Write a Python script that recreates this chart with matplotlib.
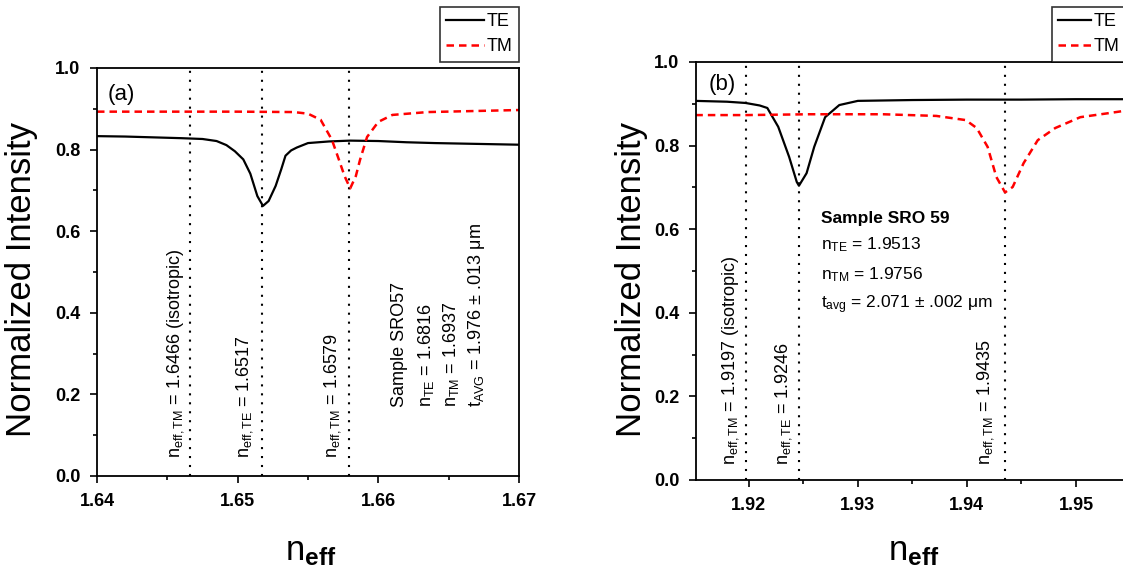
import numpy as np
import matplotlib
matplotlib.use("Agg")
import matplotlib.pyplot as plt
from matplotlib.ticker import MultipleLocator

plt.rcParams['font.family'] = ['Liberation Sans', 'DejaVu Sans']
plt.rcParams['mathtext.fontset'] = 'custom'
plt.rcParams['mathtext.rm'] = 'Liberation Sans'
plt.rcParams['mathtext.it'] = 'Liberation Sans'
plt.rcParams['mathtext.bf'] = 'Liberation Sans:bold'

# ---- panel (a) data ----
a_te_x = [1.6400, 1.6420, 1.6440, 1.6460, 1.6475, 1.6485, 1.6492, 1.6498, 1.6504,
          1.6509, 1.6514, 1.6518, 1.6522, 1.6527, 1.6531, 1.6534, 1.6538, 1.6542,
          1.6550, 1.6565, 1.6580, 1.6600, 1.6620, 1.6640, 1.6700]
a_te_y = [0.833, 0.832, 0.830, 0.828, 0.826, 0.821, 0.811, 0.796, 0.776,
          0.741, 0.686, 0.662, 0.674, 0.711, 0.752, 0.785, 0.798, 0.805,
          0.816, 0.820, 0.822, 0.821, 0.818, 0.816, 0.812]
a_tm_x = [1.6400, 1.6450, 1.6500, 1.6540, 1.6550, 1.6559, 1.6567, 1.6572, 1.6576,
          1.6580, 1.6584, 1.6587, 1.6592, 1.6600, 1.6610, 1.6635, 1.6700]
a_tm_y = [0.893, 0.893, 0.893, 0.892, 0.888, 0.873, 0.824, 0.775, 0.735,
          0.705, 0.735, 0.775, 0.831, 0.868, 0.885, 0.892, 0.897]
a_lines = [1.6466, 1.6517, 1.6579]

# ---- panel (b) data ----
b_te_x = [1.9151, 1.9180, 1.9197, 1.9210, 1.9217, 1.9227, 1.9237, 1.9244, 1.9246,
          1.9253, 1.9260, 1.9270, 1.9283, 1.9300, 1.9350, 1.9400, 1.9450, 1.9500,
          1.9550, 1.9600]
b_te_y = [0.907, 0.905, 0.902, 0.896, 0.890, 0.845, 0.773, 0.713, 0.704,
          0.734, 0.797, 0.868, 0.897, 0.907, 0.909, 0.910, 0.910, 0.911,
          0.911, 0.912]
b_tm_x = [1.9151, 1.9197, 1.9256, 1.9323, 1.9372, 1.9399, 1.9409, 1.9419, 1.9427,
          1.9435, 1.9442, 1.9452, 1.9465, 1.9481, 1.9504, 1.9531, 1.9544, 1.9600]
b_tm_y = [0.873, 0.873, 0.875, 0.875, 0.871, 0.861, 0.842, 0.797, 0.725,
          0.688, 0.701, 0.758, 0.813, 0.842, 0.868, 0.878, 0.883, 0.890]
b_lines = [1.9197, 1.9246, 1.9435]

a_ticks = [1.64, 1.65, 1.66, 1.67]
b_ticks = [1.92, 1.93, 1.94, 1.95]

W, H = 1123, 571
fig = plt.figure(figsize=(W / 100, H / 100), dpi=100)
ax_a = fig.add_axes([97 / W, 1 - 476 / H, 422 / W, 408 / H])
ax_b = fig.add_axes([696 / W, 1 - 480 / H, 489 / W, 418 / H])


def style(ax, xlim, ticks):
    ax.set_ylim(0, 1.0)
    ax.set_xlim(*xlim)
    ax.set_xticks(ticks)
    ax.xaxis.set_minor_locator(MultipleLocator(0.005))
    ax.yaxis.set_major_locator(MultipleLocator(0.2))
    ax.yaxis.set_minor_locator(MultipleLocator(0.1))
    ax.tick_params(which='both', direction='out', top=False, right=False, width=1.2)
    ax.tick_params(which='major', length=5, labelsize=13, pad=7)
    ax.tick_params(which='minor', length=3)
    for lab in ax.get_xticklabels() + ax.get_yticklabels():
        lab.set_fontweight('bold')
    for s in ax.spines.values():
        s.set_linewidth(1.3)


for ax, te_x, te_y, tm_x, tm_y, vl in [
        (ax_a, a_te_x, a_te_y, a_tm_x, a_tm_y, a_lines),
        (ax_b, b_te_x, b_te_y, b_tm_x, b_tm_y, b_lines)]:
    for v in vl:
        ax.axvline(v, color='black', linestyle=(0, (1, 3.3)), linewidth=1.5)
    ax.plot(te_x, te_y, color='black', linewidth=1.6, label='TE')
    ax.plot(tm_x, tm_y, color='red', linewidth=1.8, linestyle=(0, (3, 2)), label='TM')

style(ax_a, (1.64, 1.67), a_ticks)
style(ax_b, (1.91516, 1.96), b_ticks)

# axis labels
for xc in (22, 631):
    fig.text(xc / W, 1 - 279 / H, 'Normalized Intensity', rotation=90, fontsize=25,
             ha='center', va='center')
for xc in (311, 914):
    fig.text(xc / W, 1 - 552 / H, r'n$_{\mathbf{eff}}$', fontsize=25,
             ha='center', va='center')

# panel tags
ax_a.text(1.64076, 0.934, '(a)', fontsize=16, va='center')
ax_b.text(1.91636, 0.946, '(b)', fontsize=16, va='center')

# rotated annotations, panel (a)
rot_kw = dict(rotation=90, fontsize=13, ha='center', va='bottom')
ax_a.text(1.64557, 0.043, r'n$_{\mathrm{eff,TM}}$ = 1.6466 (isotropic)', **rot_kw)
ax_a.text(1.65051, 0.043, r'n$_{\mathrm{eff,TE}}$ = 1.6517', **rot_kw)
ax_a.text(1.65671, 0.043, r'n$_{\mathrm{eff,TM}}$ = 1.6579', **rot_kw)
ax_a.text(1.66152, 0.170, 'Sample SRO57', **rot_kw)
ax_a.text(1.66342, 0.170, r'n$_{\mathrm{TE}}$ = 1.6816', **rot_kw)
ax_a.text(1.66519, 0.170, r'n$_{\mathrm{TM}}$ = 1.6937', **rot_kw)
ax_a.text(1.66696, 0.170, r't$_{\mathrm{AVG}}$ = 1.976 $\pm$ .013 $\mu$m', **rot_kw)

# rotated annotations, panel (b)
ax_b.text(1.91831, 0.036, r'n$_{\mathrm{eff,TM}}$ = 1.9197 (isotropic)', **rot_kw)
ax_b.text(1.92318, 0.036, r'n$_{\mathrm{eff,TE}}$ = 1.9246', **rot_kw)
ax_b.text(1.94169, 0.036, r'n$_{\mathrm{eff,TM}}$ = 1.9435', **rot_kw)

blk = dict(fontsize=12.5, ha='left', va='center')
ax_b.text(1.92659, 0.626, 'Sample SRO 59', fontweight='bold', **blk)
ax_b.text(1.92659, 0.563, r'n$_{\mathrm{TE}}$ = 1.9513', **blk)
ax_b.text(1.92659, 0.491, r'n$_{\mathrm{TM}}$ = 1.9756', **blk)
ax_b.text(1.92659, 0.419, r't$_{\mathrm{avg}}$ = 2.071 $\pm$ .002 $\mu$m', **blk)

# legends
for ax, (lx, ly), hl in [(ax_a, (440, 7), 2.1), (ax_b, (1052, 7), 1.8)]:
    leg = ax.legend(loc='upper left', bbox_to_anchor=(lx / W, 1 - ly / H),
                    bbox_transform=fig.transFigure, fontsize=13, frameon=True,
                    fancybox=False, handlelength=hl, handletextpad=0.15,
                    borderpad=0.35, labelspacing=0.45, borderaxespad=0)
    leg.get_frame().set_edgecolor('black')
    leg.get_frame().set_linewidth(1.2)

fig.savefig('out.png', dpi=100)
